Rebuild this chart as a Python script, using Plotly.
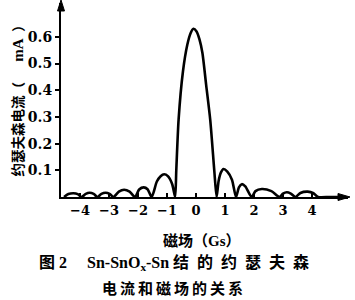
import plotly.graph_objects as go

# Magnetic field (Gs) and Josephson current (mA)
field_gs = [
    -4.55, -4.40, -4.23, -4.08, -3.95,
    -3.80, -3.67, -3.53, -3.40,
    -3.26, -3.12, -2.98, -2.85,
    -2.66, -2.48, -2.29, -2.10,
    -1.96, -1.80, -1.67, -1.53,
    -1.35, -1.22, -1.10, -0.97, -0.82, -0.72,
    -0.68, -0.60, -0.45, -0.30, -0.18, -0.09, 0.02, 0.12, 0.22, 0.35, 0.49, 0.63, 0.71,
    0.78, 0.86, 0.95, 1.08, 1.24, 1.38,
    1.48, 1.58, 1.70, 1.92,
    2.05, 2.27, 2.60, 2.88,
    3.00, 3.13, 3.27, 3.43,
    3.60, 3.85, 4.05, 4.21,
    4.60, 5.00,
]
current_ma = [
    0.000, 0.011, 0.014, 0.011, 0.000,
    0.012, 0.016, 0.012, 0.000,
    0.012, 0.016, 0.012, 0.000,
    0.020, 0.027, 0.020, 0.000,
    0.028, 0.036, 0.029, 0.000,
    0.058, 0.078, 0.085, 0.078, 0.048, 0.000,
    0.100, 0.290, 0.470, 0.570, 0.615, 0.630, 0.620, 0.590, 0.540, 0.420, 0.290, 0.100, 0.000,
    0.060, 0.092, 0.105, 0.095, 0.065, 0.000,
    0.036, 0.048, 0.040, 0.000,
    0.022, 0.030, 0.022, 0.000,
    0.013, 0.018, 0.013, 0.000,
    0.015, 0.020, 0.014, 0.000,
    0.000, 0.000,
]

y_tick_vals = [0.1, 0.2, 0.3, 0.4, 0.5, 0.6]
y_tick_text = ["0.1", "0.2", "0.3", "0.4", "0.5", "0.6"]
x_tick_vals = [-4, -3, -2, -1, 0, 1, 2, 3, 4]
x_tick_text = ["\u22124", "\u22123", "\u22122", "\u22121", "0", "1", "2", "3", "4"]

y_title = "约瑟夫森电流（\u2003\u2002<span style='font-size:15px'>mA</span>\u2002）"
x_title = "磁场（Gs）"
caption_1 = ("图 2\u2003 Sn-SnO<sub>x</sub>-Sn "
             "结\u2002的\u2002约\u2002瑟\u2002夫\u2002森")
caption_2 = "电\u2009流\u2009和\u2009磁\u2009场\u2009的\u2009关\u2009系"

serif = "DejaVu Serif, Noto Sans CJK SC"
cjk = "Liberation Serif, Noto Sans CJK SC"

# plot area in pixels: x 61..348, y 3..197
PL, PR, PT, PB = 61, 348, 3, 197


def px(xp):
    return (xp - PL) / (PR - PL)


def py(yp):
    return (PB - yp) / (PB - PT)


fig = go.Figure()
fig.add_trace(go.Scatter(
    x=field_gs, y=current_ma, mode="lines",
    line=dict(color="black", width=2.6, shape="spline", smoothing=0.7),
    cliponaxis=False, hoverinfo="skip", showlegend=False,
))

top_arrow = "M {} {} L {} {} L {} {} Z".format(px(61), py(0), px(57.5), py(11), px(64.5), py(11))
right_arrow = "M {} {} L {} {} L {} {} Z".format(px(350), py(197), px(338), py(193.5), px(338), py(200.5))

fig.update_layout(
    width=355, height=300,
    margin=dict(l=PL, r=355 - PR, t=PT, b=300 - PB),
    paper_bgcolor="white", plot_bgcolor="white",
    xaxis=dict(
        range=[-4.655, 5.241], showgrid=False, zeroline=False,
        showline=True, linecolor="black", linewidth=2,
        ticks="inside", ticklen=4, tickwidth=2, tickcolor="black",
        tickvals=x_tick_vals, ticktext=x_tick_text,
        tickfont=dict(family=serif, size=13, color="black", weight="bold"),
    ),
    yaxis=dict(
        range=[0, 0.7266], showgrid=False, zeroline=False,
        showline=True, linecolor="black", linewidth=2,
        ticks="outside", ticklen=4, tickwidth=2, tickcolor="black",
        tickvals=y_tick_vals, ticktext=y_tick_text,
        tickfont=dict(family=serif, size=14, color="black", weight="bold"),
    ),
    shapes=[
        dict(type="path", xref="paper", yref="paper", path=top_arrow,
             fillcolor="black", line=dict(color="black", width=1)),
        dict(type="path", xref="paper", yref="paper", path=right_arrow,
             fillcolor="black", line=dict(color="black", width=1)),
    ],
    annotations=[
        dict(xref="paper", yref="paper", x=px(17), y=py(97.5),
             text=y_title, textangle=-90, showarrow=False,
             font=dict(family=cjk, size=13.5, color="black", weight="bold"),
             xanchor="center", yanchor="middle"),
        dict(xref="paper", yref="paper", x=px(202), y=py(241),
             text=x_title, showarrow=False,
             font=dict(family=cjk, size=15, color="black", weight="bold"),
             xanchor="center", yanchor="middle"),
        dict(xref="paper", yref="paper", x=px(37), y=py(263),
             text=caption_1, showarrow=False,
             font=dict(family=cjk, size=16, color="black", weight="bold"),
             xanchor="left", yanchor="middle"),
        dict(xref="paper", yref="paper", x=px(172), y=py(288),
             text=caption_2, showarrow=False,
             font=dict(family=cjk, size=15, color="black", weight="bold"),
             xanchor="center", yanchor="middle"),
    ],
)

fig.write_html("out.html")
